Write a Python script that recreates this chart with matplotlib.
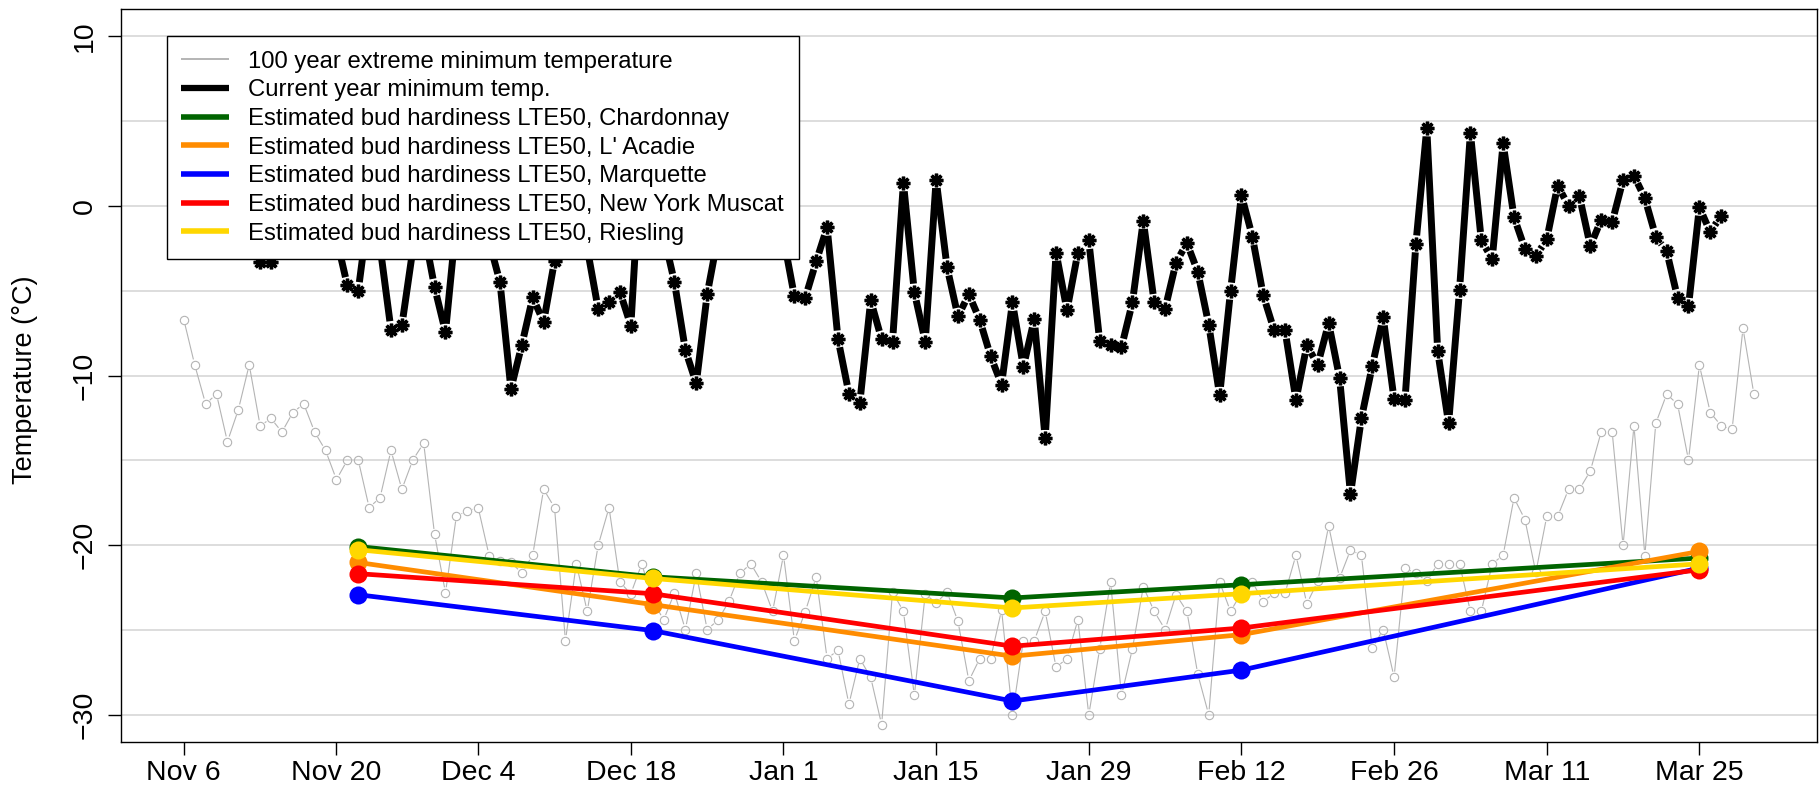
import numpy as np
import pandas as pd
import matplotlib
matplotlib.use("Agg")
import matplotlib.pyplot as plt
from matplotlib.lines import Line2D
from matplotlib.collections import LineCollection

plt.rcParams['font.family'] = ['Liberation Sans', 'DejaVu Sans']

# ---------------- data ----------------
all_days = pd.date_range('2023-11-06', '2024-03-30', freq='D')
missing_day = pd.Timestamp('2023-11-26')
season_dates = all_days[all_days != missing_day]          # 145 plotted days

extreme_min = [
    -6.71, -9.37, -11.67, -11.10, -13.90, -12.02, -9.37, -12.96, -12.53, -13.33,
    -12.18, -11.67, -13.33, -14.41, -16.13, -14.98, -14.98, -17.78, -17.19, -14.41,
    -16.70, -14.98, -13.98, -19.36, -22.79, -18.27, -17.99, -17.78, -20.60, -20.95,
    -20.99, -21.64, -20.58, -16.70, -17.78, -25.61, -21.09, -23.89, -20.01, -17.78,
    -22.18, -22.85, -21.09, -23.20, -24.40, -22.81, -24.96, -21.65, -24.96, -24.40,
    -23.30, -21.65, -21.09, -22.16, -23.89, -20.58, -25.61, -23.90, -21.87, -26.67,
    -26.18, -29.35, -26.67, -27.78, -30.56, -22.75, -23.89, -28.84, -22.87, -23.40,
    -22.75, -24.47, -27.98, -26.67, -26.67, -23.80, -29.98, -25.61, -25.61, -23.89,
    -27.18, -26.67, -24.38, -29.98, -26.10, -22.16, -28.84, -26.10, -22.44, -23.89,
    -24.96, -22.90, -23.89, -27.60, -29.98, -22.16, -23.89, -22.80, -22.16, -23.32,
    -22.81, -22.81, -20.58, -23.44, -22.12, -18.85, -21.93, -20.28, -20.58, -26.06,
    -24.96, -27.76, -21.36, -21.63, -22.12, -21.09, -21.09, -21.09, -23.89, -23.89,
    -21.09, -20.58, -17.21, -18.48, -21.60, -18.30, -18.30, -16.70, -16.70, -15.62,
    -13.31, -13.31, -20.01, -12.96, -20.60, -12.82, -11.10, -11.69, -14.98, -9.39,
    -12.18, -12.96, -13.17, -7.22, -11.10,
]

current_start = '2023-11-13'
current_min = [
    -3.3, -3.3, -1.5, 0.5, -0.5, -2.0, 1.0, -1.9, -4.7, -5.0,
    -0.1, -2.4, -7.3, -7.05, -2.6, -1.4, -4.8, -7.45, -0.9, 1.5,
    0.0, -2.1, -4.5, -10.8, -8.2, -5.4, -6.85, -3.25, 0.5, 2.0,
    -2.5, -6.07, -5.65, -5.07, -7.07, 3.9, 1.0, -1.7, -4.5, -8.5,
    -10.47, -5.22, -1.8, 0.5, 2.0, -1.0, 1.0, 3.0, -1.9, -5.34,
    -5.42, -3.28, -1.27, -7.85, -11.06, -11.61, -5.58, -7.87, -8.0, 1.34,
    -5.09, -8.0, 1.53, -3.62, -6.52, -5.22, -6.73, -8.87, -10.53, -5.7,
    -9.49, -6.69, -13.7, -2.76, -6.16, -2.76, -2.05, -7.98, -8.22, -8.32,
    -5.7, -0.88, -5.7, -6.07, -3.35, -2.2, -3.9, -7.0, -11.16, -5.03,
    0.63, -1.82, -5.28, -7.34, -7.34, -11.45, -8.22, -9.36, -6.91, -10.14,
    -16.99, -12.53, -9.43, -6.56, -11.41, -11.45, -2.25, 4.57, -8.57, -12.82,
    -4.99, 4.28, -2.05, -3.13, 3.67, -0.68, -2.54, -2.97, -1.99, 1.18,
    0.0, 0.55, -2.38, -0.82, -0.97, 1.51, 1.77, 0.44, -1.82, -2.68,
    -5.42, -5.93, -0.09, -1.56, -0.58,
]

bud_dates = ['2023-11-22', '2023-12-20', '2024-01-22', '2024-02-12', '2024-03-25']
chardonnay = [-20.07, -21.85, -23.10, -22.32, -20.75]
lacadie    = [-21.01, -23.49, -26.53, -25.26, -20.36]
marquette  = [-22.91, -25.02, -29.17, -27.35, -21.34]
ny_muscat  = [-21.67, -22.85, -25.94, -24.87, -21.44]
riesling   = [-20.26, -21.95, -23.69, -22.85, -21.09]

tick_dates = pd.date_range('2023-11-06', periods=11, freq='14D')
tick_labels = [d.strftime('%b') + ' ' + str(d.day) for d in tick_dates]

legend_labels = [
    '100 year extreme minimum temperature',
    'Current year minimum temp.',
    'Estimated bud hardiness LTE50, Chardonnay',
    "Estimated bud hardiness LTE50, L' Acadie",
    'Estimated bud hardiness LTE50, Marquette',
    'Estimated bud hardiness LTE50, New York Muscat',
    'Estimated bud hardiness LTE50, Riesling',
]

# ---------------- styles ----------------
GRAY = '#B4B4B4'
bud_series = [
    (chardonnay, '#006400'),
    (lacadie, '#FF8C00'),
    (marquette, '#0000FF'),
    (ny_muscat, '#FF0000'),
    (riesling, '#FFD700'),
]

def pos(dates):
    return season_dates.get_indexer(pd.to_datetime(dates))

W, H = 1820, 791
fig = plt.figure(figsize=(W / 100, H / 100), dpi=100)
L, R, T, B = 121, 1816.7, 8.7, 742.3
ax = fig.add_axes([L / W, (H - B) / H, (R - L) / W, (B - T) / H])

n = len(season_dates) - 1
ax.set_xlim(-0.04 * n, 1.04 * n)
ax.set_ylim(-31.6, 11.6)

ax.set_yticks([-30, -20, -10, 0, 10])
ax.set_yticks([-25, -15, -5, 5], minor=True)
ax.grid(axis='y', which='both', color='#D3D3D3', lw=1.1)
ax.set_axisbelow(True)

ax.set_xticks(pos(tick_dates))
ax.set_xticklabels(tick_labels)


def gapped(ax, x, y, gap_px, **kw):
    pts = ax.transData.transform(np.column_stack([x, y]))
    inv = ax.transData.inverted()
    segs = []
    for p0, p1 in zip(pts[:-1], pts[1:]):
        d = p1 - p0
        Ln = np.hypot(*d)
        if Ln <= 2 * gap_px:
            continue
        u = d / Ln
        segs.append(inv.transform(np.array([p0 + u * gap_px, p1 - u * gap_px])))
    ax.add_collection(LineCollection(segs, **kw))


# 100 year extreme minimum (type "b")
xg = np.arange(len(extreme_min))
gapped(ax, xg, extreme_min, 5.5, colors=GRAY, linewidths=0.8, zorder=2)
ax.plot(xg, extreme_min, ls='none', marker='o', mfc='none', mec=GRAY, ms=6.0, mew=0.8, zorder=2)

# current year minimum (type "b")
xc = pos([current_start])[0] + np.arange(len(current_min))
gapped(ax, xc, current_min, 8.5, colors='black', linewidths=5.0, zorder=3, capstyle='butt')
ax.plot(xc, current_min, ls='none', marker='o', color='black', ms=6.3, mew=0, zorder=3)
ax.plot(xc, current_min, ls='none', marker=(8, 2, 0), color='black', ms=9.8, mew=2.4, zorder=3)

# bud hardiness
xb = pos(bud_dates)
for vals, col in bud_series:
    ax.plot(xb, vals, color=col, lw=3.4, marker='o', ms=13, mew=0, zorder=4,
            solid_capstyle='butt')

for sp in ax.spines.values():
    sp.set_color('black')
    sp.set_linewidth(1.0)

ax.tick_params(axis='both', which='major', length=9.1, width=1.0, direction='out',
               labelsize=20.5, color='black')
ax.tick_params(axis='both', which='minor', length=0)
ax.tick_params(axis='x', pad=3.6)
ax.tick_params(axis='y', pad=7.5)
for lab in ax.get_yticklabels():
    lab.set_rotation(90)
    lab.set_va('center')

fig.text(25.5 / W, 1 - 380 / H, 'Temperature (°C)', rotation=90, ha='center', va='center',
         fontsize=19.5)

handles = [Line2D([], [], color=GRAY, lw=1.4, solid_capstyle='butt'),
           Line2D([], [], color='black', lw=4.5, solid_capstyle='butt')]
handles += [Line2D([], [], color=c, lw=4.0, solid_capstyle='butt') for _, c in bud_series]
ax_w, ax_h = R - L, B - T
leg = ax.legend(handles, legend_labels, loc='upper left',
                bbox_to_anchor=((166.5 - L) / ax_w, (B - 35.7) / ax_h),
                borderaxespad=0, fontsize=17.2, frameon=True, fancybox=False,
                edgecolor='black', framealpha=1, borderpad=0.62, labelspacing=0.28,
                handlelength=2.0, handletextpad=0.8)
leg.get_frame().set_linewidth(1.0)
leg.set_zorder(10)

fig.savefig('out.png', dpi=100)
